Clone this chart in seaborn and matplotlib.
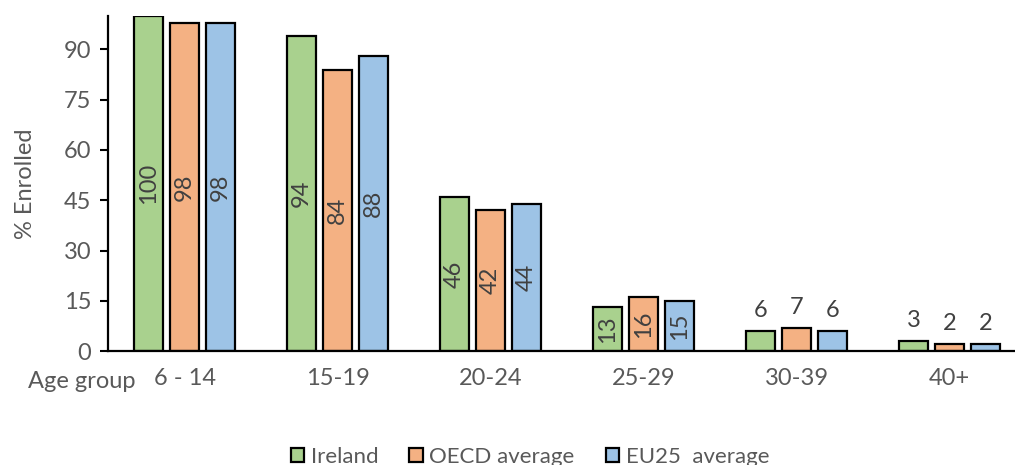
import matplotlib
matplotlib.use("Agg")
import matplotlib.pyplot as plt
from matplotlib.patches import Patch
import seaborn as sns
import pandas as pd

age_groups = ["6 - 14", "15-19", "20-24", "25-29", "30-39", "40+"]
series_names = ["Ireland", "OECD average", "EU25  average"]
ireland = [100, 94, 46, 13, 6, 3]
oecd = [98, 84, 42, 16, 7, 2]
eu25 = [98, 88, 44, 15, 6, 2]
y_ticks = [0, 15, 30, 45, 60, 75, 90]

colors = ["#A9D18E", "#F4B183", "#9DC3E6"]
text_gray = "#595959"
label_gray = "#404040"

sns.set_theme(style="white")
plt.rcParams["font.family"] = ["Lato", "DejaVu Sans"]

df = pd.DataFrame({
    "age": age_groups * 3,
    "series": [s for s in series_names for _ in age_groups],
    "value": ireland + oecd + eu25,
})

fig = plt.figure(figsize=(10.15, 4.65), dpi=100)
ax = fig.add_axes([108 / 1015, 114 / 465, 918 / 1015, 335 / 465])

sns.barplot(data=df, x="age", y="value", hue="series", order=age_groups,
            hue_order=series_names, palette=colors, width=0.705, gap=0.19,
            edgecolor="black", linewidth=1.6, saturation=1, legend=False, ax=ax)

ax.set_xlim(-0.5, 5.5)
ax.set_ylim(0, 100)
ax.set_yticks(y_ticks)
ax.tick_params(axis="y", which="both", left=True, length=6, width=1.5,
               color="black", labelsize=17, labelcolor=text_gray, pad=6)
ax.tick_params(axis="x", bottom=False, labelsize=17, labelcolor=text_gray, pad=6)
ax.set_xlabel("")
ax.set_ylabel("% Enrolled", fontsize=17, color=text_gray, labelpad=20)
for side in ("top", "right"):
    ax.spines[side].set_visible(False)
for side in ("left", "bottom"):
    ax.spines[side].set_color("black")
    ax.spines[side].set_linewidth(1.6)

# value labels: rotated inside tall bars, horizontal above short ones
for container, vals in zip(ax.containers, [ireland, oecd, eu25]):
    for patch, v in zip(container.patches, vals):
        cx = patch.get_x() + patch.get_width() / 2
        if v >= 10:
            ax.text(cx, v / 2, str(v), rotation=90, ha="center", va="center",
                    fontsize=17, color=label_gray)
        else:
            ax.text(cx, v + 3, str(v), ha="center", va="bottom",
                    fontsize=17, color=label_gray)

fig.text(28 / 1015, 1 - 381 / 465, "Age group", ha="left", va="center",
         fontsize=17, color=text_gray)

handles = [Patch(facecolor=c, edgecolor="black", linewidth=1.6) for c in colors]
fig.legend(handles, series_names, loc="center", bbox_to_anchor=(530 / 1015, 1 - 457 / 465),
           ncol=3, frameon=False, fontsize=16, labelcolor=text_gray,
           handlelength=0.6, handleheight=0.6, handletextpad=0.3, columnspacing=1.4)

fig.savefig("out.png", dpi=100)
